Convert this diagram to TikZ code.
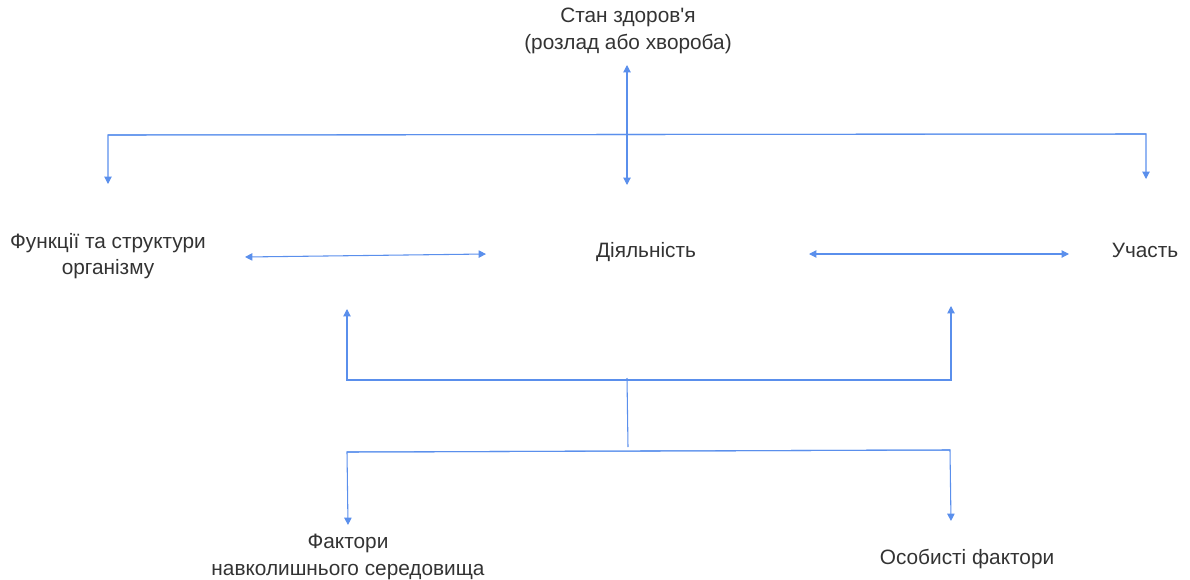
\documentclass[tikz,border=0pt]{standalone}
\usepackage{fontspec}
\setmainfont{Liberation Sans}[Ligatures=TeXOff]
\usetikzlibrary{arrows.meta}
\definecolor{lineblue}{HTML}{5A8FEC}
\definecolor{txt}{HTML}{333333}
\begin{document}
\begin{tikzpicture}[x=0.75pt,y=-0.75pt,
  lbl/.style={text=txt,font=\fontsize{15.6}{20}\selectfont,align=center,inner sep=0pt},
  conn/.style={draw=lineblue,line width=0.8pt},
  tip/.style={-{Triangle[width=5.5pt,length=5.5pt]}},
  dtip/.style={{Triangle[width=5.5pt,length=5.5pt]}-{Triangle[width=5.5pt,length=5.5pt]}}]
\useasboundingbox (0,0) rectangle (1190,579);
% texts
\node[lbl] (health) at (628,31) {Стан здоров'я\\(розлад або хвороба)};
\node[lbl] (body) at (108,256) {Функції та структури\\організму};
\node[lbl] (act) at (646,252) {Діяльність};
\node[lbl] (part) at (1145,250) {Участь};
\node[lbl] (env) at (348,557) {Фактори\\навколишнього середовища};
\node[lbl] (pers) at (967,559) {Особисті фактори};
% coordinates
\coordinate (hTop) at (627,65);
\coordinate (hBot) at (627,185);
\coordinate (tL) at (108,135);
\coordinate (tR) at (1146,134);
\coordinate (tLd) at (108,184);
\coordinate (tRd) at (1146,179);
\coordinate (bA) at (245,257);
\coordinate (aB) at (486,254);
\coordinate (aP) at (809,254);
\coordinate (pA) at (1069,254);
\coordinate (uL) at (347,380);
\coordinate (uR) at (951,380);
\coordinate (uLt) at (347,309);
\coordinate (uRt) at (951,306);
\coordinate (mT) at (627,378);
\coordinate (mB) at (628,447);
\coordinate (lL) at (347,452);
\coordinate (lR) at (950,450);
\coordinate (lLd) at (348,525);
\coordinate (lRd) at (951,521);
% connectors
\draw[conn,dtip] (hTop) -- (hBot);
\draw[conn,tip] (tR) -- (tL) -- (tLd);
\draw[conn,tip] (tL) -- (tR) -- (tRd);
\draw[conn,dtip] (bA) -- (aB);
\draw[conn,dtip] (aP) -- (pA);
\draw[conn,tip] (uR) -- (uL) -- (uLt);
\draw[conn,tip] (uL) -- (uR) -- (uRt);
\draw[conn] (mT) -- (mB);
\draw[conn,tip] (lR) -- (lL) -- (lLd);
\draw[conn,tip] (lL) -- (lR) -- (lRd);
\end{tikzpicture}
\end{document}
